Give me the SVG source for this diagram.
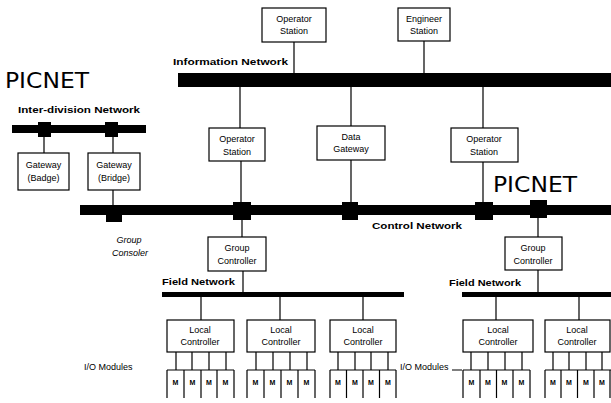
<svg xmlns="http://www.w3.org/2000/svg" width="611" height="403" viewBox="0 0 611 403">
<style>
.box{fill:#fff;stroke:#000;stroke-width:1.2}
.t{font-family:"Liberation Sans",Arial,sans-serif;font-size:9px;fill:#000;text-anchor:middle}
.lb{font-family:"Liberation Sans",Arial,sans-serif;font-size:9.5px;font-weight:bold;fill:#000}
.big{font-family:"DejaVu Sans","Liberation Sans",sans-serif;font-size:21px;fill:#000}
.m{font-family:"Liberation Sans",Arial,sans-serif;font-size:7px;font-weight:bold;fill:#000;text-anchor:middle}
.ln{stroke:#000;stroke-width:1.2;fill:none}
.bar{fill:#000}
</style>
<rect width="611" height="403" fill="#fff"/>
<text class="big" x="5" y="88" textLength="84" lengthAdjust="spacingAndGlyphs">PICNET</text>
<text class="big" x="493" y="192" textLength="84" lengthAdjust="spacingAndGlyphs">PICNET</text>
<g id="buses">
<rect class="bar" x="178" y="73" width="433" height="14"/>
<rect class="bar" x="12" y="125" width="134" height="8"/>
<rect class="bar" x="38" y="122" width="13" height="15"/>
<rect class="bar" x="105" y="122" width="13" height="15"/>
<rect class="bar" x="80" y="205" width="531" height="10"/>
<rect class="bar" x="106" y="207" width="16" height="15"/>
<rect class="bar" x="233" y="202" width="18" height="18"/>
<rect class="bar" x="342" y="202" width="16" height="18"/>
<rect class="bar" x="475" y="202" width="18" height="18"/>
<rect class="bar" x="530" y="200" width="17" height="18"/>
<rect class="bar" x="162" y="292" width="242" height="5"/>
<rect class="bar" x="462" y="292" width="149" height="5"/>
</g>
<g id="labels">
<text class="lb" x="173" y="65" textLength="115" lengthAdjust="spacingAndGlyphs">Information Network</text>
<text class="lb" x="18" y="113" textLength="122" lengthAdjust="spacingAndGlyphs">Inter-division Network</text>
<text class="lb" x="372" y="229" textLength="90" lengthAdjust="spacingAndGlyphs">Control Network</text>
<text class="lb" x="162" y="285" textLength="73" lengthAdjust="spacingAndGlyphs">Field Network</text>
<text class="lb" x="449" y="286" textLength="72" lengthAdjust="spacingAndGlyphs">Field Network</text>
<text class="t" x="129" y="243" font-style="italic">Group</text>
<text class="t" x="130" y="256" font-style="italic">Consoler</text>
<text class="t" x="84" y="370" style="text-anchor:start">I/O Modules</text>
<text class="t" x="400" y="370" style="text-anchor:start">I/O Modules</text>
</g>
<g id="connectors">
<path class="ln" d="M294 42V73M424 41V73M240 87V128M351 87V126M483 87V128M241 161V205M351 160V205M483 162V205M44 133V153M113 133V153M113 190V207M242 220V237M243 271V292M538 218V237M538 270V292M201 297V320M280 297V320M363 297V320M496 297V320M579 297V320M452 370H462"/>
</g>
<g id="op-station-top"><rect class="box" x="262" y="8" width="64" height="34"/><text class="t" x="294" y="22">Operator</text><text class="t" x="294" y="34">Station</text></g>
<g id="eng-station"><rect class="box" x="398" y="8" width="52" height="33"/><text class="t" x="424" y="22">Engineer</text><text class="t" x="424" y="34">Station</text></g>
<g id="gw-badge"><rect class="box" x="18" y="153" width="51" height="37"/><text class="t" x="43.5" y="168">Gateway</text><text class="t" x="43.5" y="181">(Badge)</text></g>
<g id="gw-bridge"><rect class="box" x="88" y="153" width="52" height="37"/><text class="t" x="114" y="168">Gateway</text><text class="t" x="114" y="181">(Bridge)</text></g>
<g id="op-station-mid"><rect class="box" x="209" y="128" width="56" height="33"/><text class="t" x="237" y="142">Operator</text><text class="t" x="237" y="155">Station</text></g>
<g id="data-gateway"><rect class="box" x="317" y="126" width="68" height="34"/><text class="t" x="351" y="140">Data</text><text class="t" x="351" y="152">Gateway</text></g>
<g id="op-station-right"><rect class="box" x="451" y="128" width="67" height="34"/><text class="t" x="484" y="142">Operator</text><text class="t" x="484" y="155">Station</text></g>
<g id="group-ctrl-1"><rect class="box" x="208" y="237" width="58" height="34"/><text class="t" x="237" y="251">Group</text><text class="t" x="237" y="264">Controller</text></g>
<g id="group-ctrl-2"><rect class="box" x="505" y="237" width="57" height="33"/><text class="t" x="533" y="251">Group</text><text class="t" x="533" y="264">Controller</text></g>
<g id="lc1"><rect class="box" x="167" y="320" width="67" height="32"/><text class="t" x="200" y="333">Local</text><text class="t" x="200" y="345">Controller</text>
<path class="ln" d="M176 352V370M192 352V370M209 352V370M226 352V370M167 370H234M167 370V398M184 370V398M201 370V398M217 370V398M234 370V398"/>
<text class="m" x="175.5" y="385">M</text><text class="m" x="192.5" y="385">M</text><text class="m" x="209" y="385">M</text><text class="m" x="225.5" y="385">M</text></g>
<g id="lc2"><rect class="box" x="247" y="320" width="68" height="32"/><text class="t" x="281" y="333">Local</text><text class="t" x="281" y="345">Controller</text>
<path class="ln" d="M256 352V370M273 352V370M290 352V370M307 352V370M247 370H315M247 370V398M264 370V398M281 370V398M298 370V398M315 370V398"/>
<text class="m" x="255.5" y="385">M</text><text class="m" x="272.5" y="385">M</text><text class="m" x="289.5" y="385">M</text><text class="m" x="306.5" y="385">M</text></g>
<g id="lc3"><rect class="box" x="330" y="320" width="66" height="32"/><text class="t" x="363" y="333">Local</text><text class="t" x="363" y="345">Controller</text>
<path class="ln" d="M338 352V370M355 352V370M371 352V370M388 352V370M330 370H396M330 370V398M346.5 370V398M363 370V398M379.5 370V398M396 370V398"/>
<text class="m" x="338" y="385">M</text><text class="m" x="355" y="385">M</text><text class="m" x="371" y="385">M</text><text class="m" x="388" y="385">M</text></g>
<g id="lc4"><rect class="box" x="463" y="320" width="70" height="32"/><text class="t" x="498" y="333">Local</text><text class="t" x="498" y="345">Controller</text>
<path class="ln" d="M471 352V370M488 352V370M505 352V370M522 352V370M463 370H530M463 370V398M480 370V398M496.5 370V398M513 370V398M530 370V398"/>
<text class="m" x="471.5" y="385">M</text><text class="m" x="488" y="385">M</text><text class="m" x="504.5" y="385">M</text><text class="m" x="521.5" y="385">M</text></g>
<g id="lc5"><rect class="box" x="545" y="320" width="65" height="32"/><text class="t" x="577" y="333">Local</text><text class="t" x="577" y="345">Controller</text>
<path class="ln" d="M553 352V370M569 352V370M586 352V370M602 352V370M545 370H611M545 370V398M561 370V398M577.5 370V398M594 370V398M610 370V398"/>
<text class="m" x="553" y="385">M</text><text class="m" x="569" y="385">M</text><text class="m" x="586" y="385">M</text><text class="m" x="602" y="385">M</text></g>
</svg>
